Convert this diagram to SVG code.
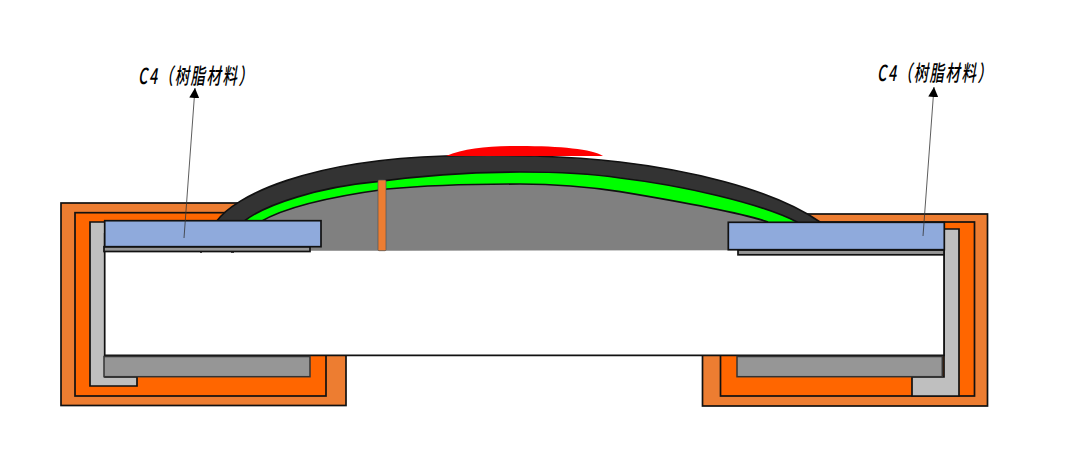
<svg xmlns="http://www.w3.org/2000/svg" width="1080" height="451" viewBox="0 0 1080 451">
<style>
.e{stroke:#111;stroke-width:1.7}
.o1{fill:#ED7D31}.o2{fill:#FF6600}.l{fill:#BFBFBF}.g{fill:#969696}.b{fill:#8FAADC}
.t{font-family:"Noto Sans CJK SC","Liberation Sans",sans-serif;font-style:italic;font-weight:500;font-size:20px;letter-spacing:2.200px;fill:#000}
.lead{stroke:#333;stroke-width:.8;fill:none;marker-end:url(#a)}
.edge{fill:none;stroke:#111;stroke-width:1.700}
</style>
<defs><marker id="a" markerUnits="userSpaceOnUse" markerWidth="11" markerHeight="10" refX="10" refY="5" orient="auto"><path d="M0 0 10 5 0 10Z" fill="#000"/></marker></defs>
<rect width="1080" height="451" fill="#fff"/>
<g id="left-case">
<rect class="o1 e" x="61" y="203" width="285" height="202.500"/>
<rect class="o2 e" x="75" y="212.700" width="251" height="183.300"/>
<path class="l e" d="M90 222H105V377H137V386H90Z"/>
</g>
<g id="right-case">
<rect class="o1 e" x="702.500" y="214" width="285" height="192"/>
<rect class="o2 e" x="720.500" y="222" width="254" height="174"/>
<path class="l e" d="M944 229H959V396H912V377H944Z"/>
</g>
<g id="cavity">
<path d="M104.700 233V355H944V250H104.700Z" fill="#fff"/>
<path class="edge" d="M104.700 233V355.300H944V250"/>
<path d="M200 252h2M231 252h3" stroke="#111" stroke-width="1.500"/>
</g>
<g id="lower-pads">
<rect class="g" x="104" y="356.500" width="206" height="20.200" stroke="#333" stroke-width="1.500"/>
<rect class="g" x="737" y="356.500" width="205.300" height="20.200" stroke="#333" stroke-width="1.500"/>
</g>
<g id="dome">
<path class="edge" style="fill:#333" d="M216 222C235 195 310 160 445 156C500 154 570 156 620 162C680 169 770 187 820 222V235H216Z"/>
<path class="edge" style="fill:#0f0" d="M243 222C265 204 320 187 377 181.700C425 175 480 172 520 172C570 172 600 175 620 178C680 185 760 203 797 222V235H243Z"/>
<path d="M260 222C285 207 335 196 387 189C430 185 480 184 520 184C560 184 590 187 620 191.700C670 200 735 211 768 222V250.300L400 250.700H260Z" fill="#808080"/>
<path class="edge" d="M260 222C285 207 335 196 387 189C430 185 480 184 520 184C560 184 590 187 620 191.700C670 200 735 211 768 222"/>
<path d="M446 156C465 148 490 146 520 146C560 146 592 149 603 156Z" fill="#f00"/>
<rect x="378" y="180" width="8" height="70.700" rx="1" fill="#ED7D31" stroke="#555" stroke-width=".7"/>
</g>
<g id="left-pad">
<rect class="g e" x="104" y="246.700" width="206" height="4.800"/>
<rect class="b e" x="104.700" y="220.700" width="216.300" height="26"/>
</g>
<g id="right-pad">
<rect class="g e" x="738" y="250" width="206" height="4.800"/>
<rect class="b e" x="728.300" y="222.300" width="216" height="27.400"/>
</g>
<g id="connectors">
<path class="lead" d="M184 238 195 88"/>
<path class="lead" d="M923 236 934 87"/>
</g>
<g id="label-left"><text class="t" transform="translate(138 84) scale(.72 1.100)">C4（树脂材料）</text></g>
<g id="label-right"><text class="t" transform="translate(877 81) scale(.72 1.100)">C4（树脂材料）</text></g>
</svg>
